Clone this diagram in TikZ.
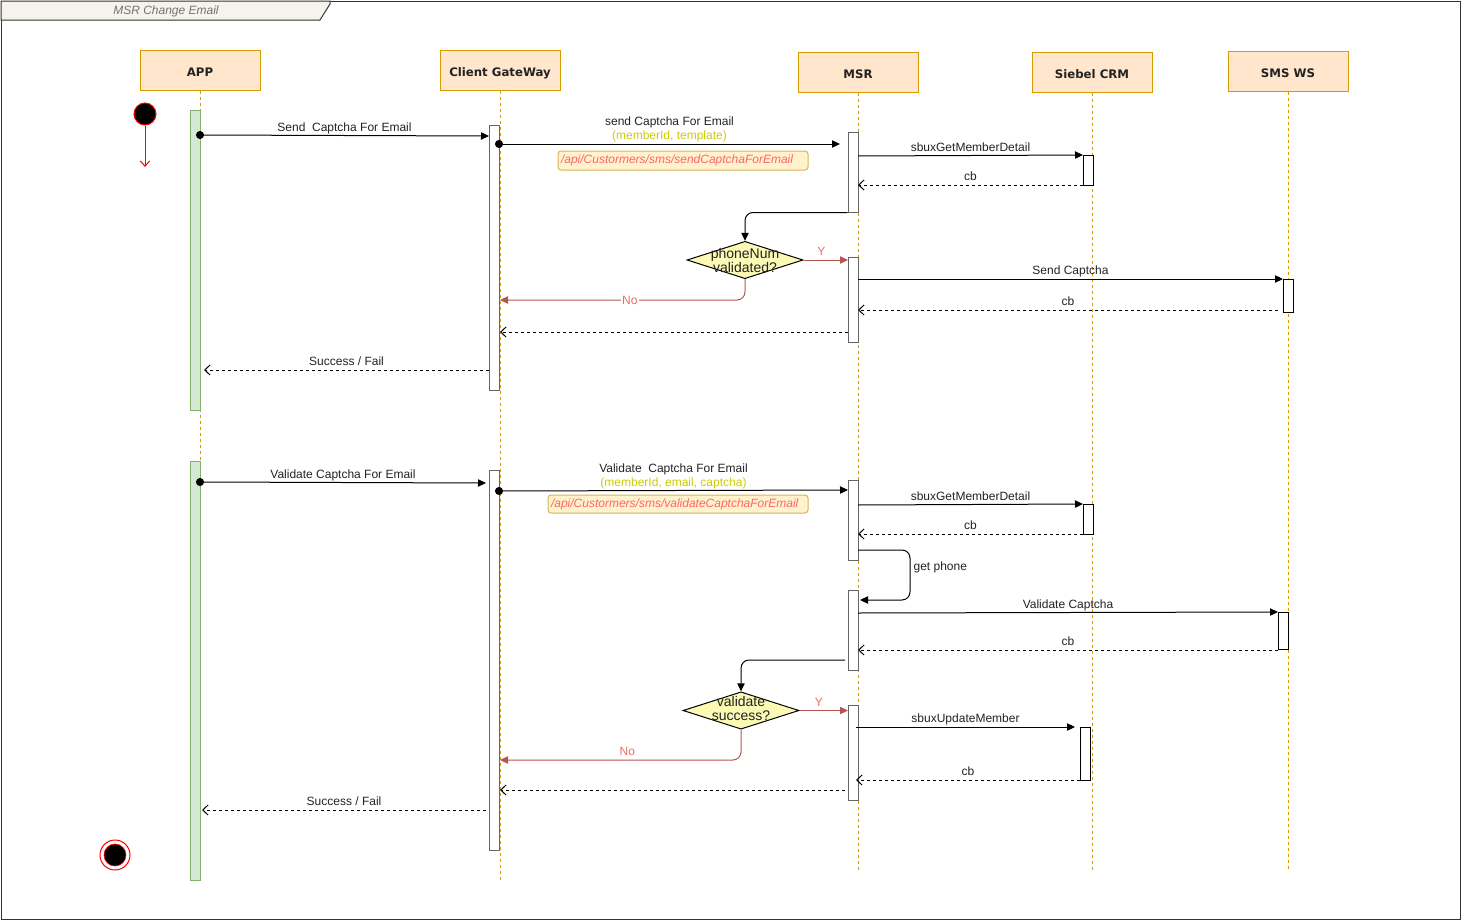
\documentclass[tikz,border=0pt]{standalone}
\usepackage{fontspec}
\setmainfont{Liberation Sans}
\newfontfamily\hdrfont{DejaVu Sans}
\usetikzlibrary{arrows.meta,shapes.geometric,fit}
\definecolor{hdrF}{HTML}{FFE6CC}
\definecolor{hdrD}{HTML}{D79B00}
\definecolor{grnF}{HTML}{D5E8D4}
\definecolor{grnD}{HTML}{82B366}
\definecolor{actD}{HTML}{666666}
\definecolor{noteF}{HTML}{FFF2CC}
\definecolor{noteD}{HTML}{D6B656}
\definecolor{noteT}{HTML}{FF6666}
\definecolor{ylwT}{HTML}{CCCC00}
\definecolor{redL}{HTML}{B85450}
\definecolor{redT}{HTML}{EA6B66}
\definecolor{diaF}{HTML}{FBF9B4}
\definecolor{titleF}{HTML}{F5F3EC}
\definecolor{frameD}{HTML}{333333}
\definecolor{txtC}{HTML}{222222}
\tikzset{
  hdr/.style={rectangle, draw=hdrD, fill=hdrF, line width=0.75pt, minimum width=90pt, minimum height=30pt, inner sep=0pt, text height=9.4pt, text depth=0pt, text=txtC, font=\hdrfont\bfseries\fontsize{8.8}{10}\selectfont},
  life/.style={draw=hdrD, line width=0.75pt, dash pattern=on 2.25pt off 2.25pt},
  act/.style={rectangle, draw=actD, fill=white, line width=0.75pt, inner sep=0pt},
  actb/.style={act, draw=black},
  gact/.style={act, draw=grnD, fill=grnF},
  msg/.style={draw=black, line width=0.75pt, -{Triangle[length=6pt,width=5.5pt]}},
  dmsg/.style={draw=black, line width=0.75pt, -{Straight Barb[length=4pt,width=7.5pt]}, dash pattern=on 2.25pt off 2.25pt},
  dotmsg/.style={draw=black, line width=0.75pt, {Circle[length=6pt]}-{Triangle[length=6pt,width=5.5pt]}, shorten <=-3pt},
  rmsg/.style={draw=redL, line width=0.75pt, -{Triangle[length=6pt,width=5.5pt]}},
  lbl/.style={font=\fontsize{9}{10.5}\selectfont, text=txtC, inner sep=1pt, text depth=2pt},
  rlbl/.style={lbl, text=redT},
  note/.style={rectangle, draw=noteD, fill=noteF, rounded corners=2.25pt, line width=0.75pt, text=noteT, font=\itshape\fontsize{9}{10}\selectfont, inner xsep=2.25pt, inner ysep=0pt, align=left},
  dia/.style={diamond, draw=black, fill=diaF, line width=0.75pt, minimum width=87pt, minimum height=28pt, inner sep=0pt},
  dtxt/.style={font=\fontsize{10.5}{10.5}\selectfont, text=txtC, align=center, inner sep=0pt}
}
\begin{document}
\begin{tikzpicture}[x=0.75pt,y=-0.75pt]
\useasboundingbox (0,0) rectangle (1461,921);
% frame
\draw[draw=frameD, line width=0.75pt] (1,1) rectangle (1460,919);
\draw[draw=frameD, fill=titleF, line width=0.75pt] (1,1) -- (330,1) -- (330,4) -- (320,20) -- (1,20) -- cycle;
\node[font=\itshape\fontsize{9}{10}\selectfont, text=black!55, inner sep=0pt] (title) at (166,11) {MSR Change Email};
% headers
\node[hdr] (app) at (200,70) {APP};
\node[hdr] (cgw) at (500,70) {Client GateWay};
\node[hdr] (msr) at (858,72) {MSR};
\node[hdr] (crm) at (1092,72) {Siebel CRM};
\node[hdr] (sms) at (1288,71) {SMS WS};
% lifelines
\coordinate (appE) at (200,880);
\coordinate (cgwE) at (500,880);
\coordinate (msrE) at (858,870);
\coordinate (crmE) at (1092,870);
\coordinate (smsE) at (1288,870);
\draw[life] (app.south) -- (appE);
\draw[life] (cgw.south) -- (cgwE);
\draw[life] (msr.south) -- (msrE);
\draw[life] (crm.south) -- (crmE);
\draw[life] (sms.south) -- (smsE);
% activations
\node[gact, fit={(190,110)(200,410)}] (ga1) {};
\node[gact, fit={(190,461)(200,880)}] (ga2) {};
\node[act, fit={(489,125)(499,390)}] (c1) {};
\node[act, fit={(489,470)(499,850)}] (c2) {};
\node[act, fit={(848,132)(858,212)}] (m1) {};
\node[act, fit={(848,257)(858,342)}] (m2) {};
\node[act, fit={(848,480)(858,560)}] (m3) {};
\node[act, fit={(848,590)(858,670)}] (m4) {};
\node[act, fit={(848,705)(858,800)}] (m5) {};
\node[actb, fit={(1083,155)(1093,185)}] (s1) {};
\node[actb, fit={(1083,504)(1093,534)}] (s2) {};
\node[actb, fit={(1080,727)(1090,780)}] (s3) {};
\node[actb, fit={(1283,279)(1293,312)}] (w1) {};
\node[actb, fit={(1278,612)(1288,649)}] (w2) {};
% initial / final states
\node[circle, fill=black, draw=red, line width=0.75pt, minimum size=16.5pt, inner sep=0pt] (init) at (145,114) {};
\coordinate (initE) at (145,167);
\draw[draw=red, line width=0.75pt, -{Straight Barb[length=4pt,width=7pt]}] (init) -- (initE);
\node[circle, fill=white, draw=red, line width=0.75pt, minimum size=22.5pt, inner sep=0pt] (fin) at (115,855) {};
\node[circle, fill=black, draw=red, line width=0.5pt, minimum size=16.5pt, inner sep=0pt] (finI) at (fin) {};
% ---------- section 1 ----------
\coordinate (a1) at (200,135); \coordinate (a2) at (489,136);
\draw[dotmsg] (a1) -- node[lbl, above] {Send\ \ Captcha For Email} (a2);
\coordinate (b1) at (499,144); \coordinate (b2) at (840,144);
\draw[dotmsg] (b1) -- node[lbl, above, align=center] {send Captcha For Email\\\textcolor{ylwT}{(memberId, template)}} (b2);
\node[note, minimum width=187.5pt, text width=183pt, minimum height=14.25pt] (note1) at (683,160.5) {/api/Custormers/sms/sendCaptchaForEmail};
\coordinate (e1) at (858,156); \coordinate (e2) at (1083,155);
\draw[msg] (e1) -- node[lbl, above] {sbuxGetMemberDetail} (e2);
\coordinate (f1) at (1083,185); \coordinate (f2) at (858,185);
\draw[dmsg] (f1) -- node[lbl, above] {cb} (f2);
\node[dia] (d1) at (745,260) {};
\node[dtxt] (d1t) at (745,260) {phoneNum\\validated?};
\draw[msg, rounded corners=6pt] (m1.south west) -| (d1.north);
\coordinate (y1) at (848,260);
\draw[rmsg] (d1.east) -- node[rlbl, above, pos=0.4] {Y} (y1);
\coordinate (n1) at (500,300);
\draw[rmsg, rounded corners=6pt] (d1.south) |- node[rlbl, text depth=0pt, pos=0.735, fill=white] {No} (n1);
\coordinate (g1) at (848,332); \coordinate (g2) at (500,332);
\draw[dmsg] (g1) -- (g2);
\coordinate (h1) at (858,279); \coordinate (h2) at (1283,279);
\draw[msg] (h1) -- node[lbl, above] {Send Captcha} (h2);
\coordinate (i1) at (1278,310); \coordinate (i2) at (858,310);
\draw[dmsg] (i1) -- node[lbl, above] {cb} (i2);
\coordinate (j1) at (489,370); \coordinate (j2) at (204,370);
\draw[dmsg] (j1) -- node[lbl, above] {Success / Fail} (j2);
% ---------- section 2 ----------
\coordinate (k1) at (200,482); \coordinate (k2) at (486,483);
\draw[dotmsg] (k1) -- node[lbl, above] {Validate Captcha For Email} (k2);
\coordinate (l1) at (499,491); \coordinate (l2) at (848,490);
\draw[dotmsg] (l1) -- node[lbl, above, align=center] {Validate\ \ Captcha For Email\\\textcolor{ylwT}{(memberId, email, captcha)}} (l2);
\node[note, minimum width=195pt, text width=190.5pt, minimum height=13.5pt] (note2) at (678,504) {/api/Custormers/sms/validateCaptchaForEmail};
\coordinate (o1) at (858,505); \coordinate (o2) at (1083,504);
\draw[msg] (o1) -- node[lbl, above] {sbuxGetMemberDetail} (o2);
\coordinate (q1) at (1083,534); \coordinate (q2) at (858,534);
\draw[dmsg] (q1) -- node[lbl, above] {cb} (q2);
\coordinate (r1) at (858,550); \coordinate (r2) at (910,550);
\coordinate (r3) at (910,600); \coordinate (r4) at (860,600);
\draw[msg, rounded corners=6pt] (r1) -- (r2) -- (r3) -- (r4);
\node[lbl, anchor=west] (gp) at (912,567) {get phone};
\coordinate (t1) at (858,613); \coordinate (t2) at (1278,612);
\draw[msg] (t1) -- node[lbl, above] {Validate Captcha} (t2);
\coordinate (u1) at (1278,650); \coordinate (u2) at (858,650);
\draw[dmsg] (u1) -- node[lbl, above] {cb} (u2);
\node[dia] (d2) at (741,710.5) {};
\node[dtxt] (d2t) at (741,708) {validate\\success?};
\coordinate (v1) at (845,660);
\draw[msg, rounded corners=6pt] (v1) -| (d2.north);
\coordinate (y2) at (848,710.5);
\draw[rmsg] (d2.east) -- node[rlbl, above, pos=0.4] {Y} (y2);
\coordinate (n2) at (500,760);
\draw[rmsg, rounded corners=6pt] (d2.south) |- node[rlbl, pos=0.736, above] {No} (n2);
\coordinate (w3) at (856,727); \coordinate (w4) at (1075,727);
\draw[msg] (w3) -- node[lbl, above] {sbuxUpdateMember} (w4);
\coordinate (x1) at (1080,780); \coordinate (x2) at (856,780);
\draw[dmsg] (x1) -- node[lbl, above] {cb} (x2);
\coordinate (z1) at (845,790); \coordinate (z2) at (500,790);
\draw[dmsg] (z1) -- (z2);
\coordinate (zz1) at (486,810); \coordinate (zz2) at (202,810);
\draw[dmsg] (zz1) -- node[lbl, above] {Success / Fail} (zz2);
\end{tikzpicture}
\end{document}
